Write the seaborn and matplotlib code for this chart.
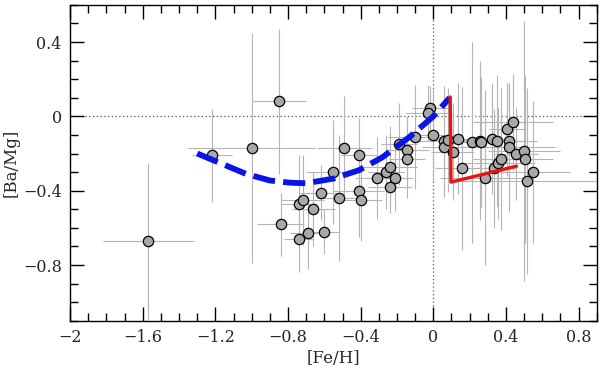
import numpy as np
import pandas as pd
import matplotlib
matplotlib.use("Agg")
import matplotlib.pyplot as plt
import seaborn as sns
from matplotlib.ticker import MultipleLocator, FixedLocator

# ---- data ----
feh = [-1.57, -1.22, -1.00, -0.85, -0.84, -0.74, -0.72, -0.74, -0.69, -0.66,
       -0.62, -0.60, -0.55, -0.52, -0.49, -0.41, -0.41, -0.40, -0.31, -0.26,
       -0.24, -0.21, -0.24, -0.19, -0.145, -0.145, -0.10, -0.02, -0.03, 0.00,
       0.06, 0.057, 0.083, 0.106, 0.134, 0.158, 0.215, 0.255, 0.262, 0.286,
       0.322, 0.348, 0.335, 0.357, 0.37, 0.408, 0.437, 0.418, 0.418, 0.455,
       0.50, 0.507, 0.55, 0.517]
bamg = [-0.67, -0.21, -0.17, 0.08, -0.58, -0.47, -0.45, -0.66, -0.63, -0.50,
        -0.41, -0.62, -0.30, -0.44, -0.17, -0.21, -0.40, -0.45, -0.33, -0.30,
        -0.27, -0.33, -0.38, -0.15, -0.18, -0.23, -0.11, 0.045, 0.02, -0.10,
        -0.135, -0.165, -0.125, -0.19, -0.12, -0.28, -0.14, -0.13, -0.14, -0.33,
        -0.12, -0.13, -0.28, -0.25, -0.23, -0.07, -0.03, -0.13, -0.165, -0.20,
        -0.187, -0.23, -0.30, -0.35]
feh_err = [0.25, 0.11, 0.35, 0.15, 0.13, 0.10, 0.12, 0.08, 0.10, 0.12,
           0.12, 0.08, 0.15, 0.12, 0.15, 0.10, 0.14, 0.12, 0.12, 0.10,
           0.15, 0.10, 0.12, 0.10, 0.12, 0.10, 0.15, 0.10, 0.12, 0.10,
           0.15, 0.12, 0.10, 0.12, 0.10, 0.15, 0.12, 0.15, 0.10, 0.25,
           0.12, 0.15, 0.12, 0.20, 0.15, 0.10, 0.22, 0.15, 0.25, 0.12,
           0.20, 0.15, 0.20, 0.40]
bamg_err = [0.42, 0.25, 0.62, 0.39, 0.17, 0.26, 0.24, 0.18, 0.19, 0.20,
            0.15, 0.12, 0.28, 0.34, 0.28, 0.20, 0.25, 0.22, 0.22, 0.20,
            0.22, 0.18, 0.14, 0.22, 0.18, 0.21, 0.28, 0.12, 0.15, 0.25,
            0.30, 0.27, 0.28, 0.26, 0.30, 0.44, 0.54, 0.43, 0.35, 0.47,
            0.30, 0.35, 0.32, 0.30, 0.38, 0.25, 0.26, 0.30, 0.35, 0.25,
            0.70, 0.45, 0.38, 0.50]

# model curves
blue_x = [-1.30, -1.03, -0.90, -0.79, -0.70, -0.55, -0.41, -0.28, -0.13, 0.00, 0.09]
blue_y = [-0.20, -0.31, -0.345, -0.357, -0.36, -0.335, -0.29, -0.22, -0.11, 0.00, 0.10]
red_x = [0.093, 0.097, 0.458]
red_y = [0.104, -0.354, -0.268]

x_ticks = [-2, -1.6, -1.2, -0.8, -0.4, 0, 0.4, 0.8]
y_ticks = [-0.8, -0.4, 0, 0.4]

df = pd.DataFrame({"feh": feh, "bamg": bamg})
blue = pd.DataFrame({"x": blue_x, "y": blue_y})
red = pd.DataFrame({"x": red_x, "y": red_y})

sns.set_theme(style="ticks")
plt.rcParams["font.family"] = ["DejaVu Serif"]
plt.rcParams["axes.unicode_minus"] = True

fig = plt.figure(figsize=(6.0, 3.73), dpi=100)
ax = fig.add_axes([0.1167, 0.140, 0.878, 0.847])

ax.errorbar(feh, bamg, xerr=feh_err, yerr=bamg_err, fmt="none",
            ecolor="#b5b5b5", elinewidth=0.8, capsize=0, zorder=1)
ax.axhline(0, color="#555555", ls=(0, (1, 2.0)), lw=0.9, zorder=0.5)
ax.axvline(0, color="#555555", ls=(0, (1, 2.0)), lw=0.9, zorder=0.5)

sns.scatterplot(data=df, x="feh", y="bamg", ax=ax, s=55, color="#a8a8a8",
                edgecolor="black", linewidth=0.9, zorder=3, legend=False)

sns.lineplot(data=blue, x="x", y="y", ax=ax, color="#0a14e6", lw=4.2,
             sort=False, estimator=None, zorder=4)
ax.lines[-1].set_dashes((3.8, 1.4))
sns.lineplot(data=red, x="x", y="y", ax=ax, color="#ee1111", lw=2.4,
             sort=False, estimator=None, zorder=4)

ax.set_xlim(-2.0, 0.9)
ax.set_ylim(-1.1, 0.6)
ax.xaxis.set_major_locator(FixedLocator(x_ticks))
ax.yaxis.set_major_locator(FixedLocator(y_ticks))
ax.xaxis.set_minor_locator(MultipleLocator(0.1))
ax.yaxis.set_minor_locator(MultipleLocator(0.1))
ax.set_xticklabels(["\u22122", "\u22121.6", "\u22121.2", "\u22120.8", "\u22120.4", "0", "0.4", "0.8"])
ax.set_yticklabels(["\u22120.8", "\u22120.4", "0", "0.4"])

ax.tick_params(which="both", direction="in", top=True, right=True,
               color="black", width=1.0, labelsize=11.5, pad=6)
ax.tick_params(which="major", length=10)
ax.tick_params(which="minor", length=5.5)
for sp in ax.spines.values():
    sp.set_color("black")
    sp.set_linewidth(1.0)

ax.set_xlabel("[Fe/H]", fontsize=12, labelpad=3)
ax.set_ylabel("[Ba/Mg]", fontsize=12, labelpad=0)
ax.yaxis.set_label_coords(-0.095, 0.5)

fig.savefig("out.png", dpi=100)
